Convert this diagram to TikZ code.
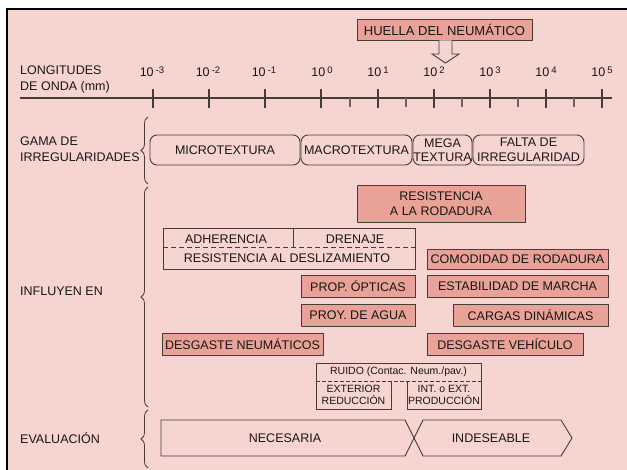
\documentclass[tikz,border=0pt]{standalone}
\usepackage{fontspec}
\setmainfont{Liberation Sans}
\usetikzlibrary{decorations.pathreplacing}
\definecolor{bg}{RGB}{246,212,208}
\definecolor{salmon}{RGB}{232,162,151}
\definecolor{ink}{RGB}{25,22,22}
\definecolor{edge}{RGB}{70,60,58}
\begin{document}
\begin{tikzpicture}[x=1pt,y=-1pt,
  lbl/.style={font=\fontsize{12.5}{15.5}\selectfont, text=ink, inner sep=0pt, align=left},
  txt/.style={font=\fontsize{12.5}{14.5}\selectfont, text=ink, inner sep=0pt, align=center},
  small/.style={font=\fontsize{10.5}{12}\selectfont, text=ink, inner sep=0pt, align=center},
  hot/.style={txt, draw=edge, fill=salmon, line width=0.9pt},
  plain/.style={txt, draw=edge, line width=0.9pt},
  rbox/.style={txt, draw=edge, line width=0.9pt, rounded corners=7pt},
  brace/.style={draw=edge, line width=0.8pt, decorate, decoration={brace, amplitude=7pt}},
  edgeline/.style={draw=edge, line width=0.9pt},
  major/.style={draw=edge, line width=1.4pt},
  minor/.style={draw=edge!75!bg, line width=1.1pt},
  expo/.style={font=\fontsize{12.5}{13}\selectfont, text=ink, inner sep=0pt}]
\useasboundingbox (0,0) rectangle (627,470);
\fill[bg] (7,9) rectangle (627,470);
\draw[black, line width=2.2pt] (7,470) -- (7,9) -- (627,9);

% tyre footprint
\node[hot, minimum width=175, minimum height=21, font=\fontsize{13}{14}\selectfont] (huella) at (444.5,29.5) {HUELLA DEL NEUMÁTICO};
\draw[edgeline, fill=bg] (huella.south -| 439,0) -- (439,54) -- (432,54) -- (445.5,63) -- (459,54) -- (452,54) -- (huella.south -| 452,0);

% wavelength axis
\node[lbl, anchor=west] (long) at (20,79.5) {LONGITUDES\\DE ONDA (mm)};
\coordinate (ax0) at (20,98);
\coordinate (ax1) at (612,98);
\draw[major] (ax0) -- (ax1);
\draw[major] (153,89) -- (153,108) (209,89) -- (209,108) (265,89) -- (265,108)
  (321,89) -- (321,108) (378,89) -- (378,108) (434,89) -- (434,108)
  (490,89) -- (490,108) (546,89) -- (546,108) (602,89) -- (602,108);
\draw[minor] (350,98) -- (350,107) (406,98) -- (406,107) (462,98) -- (462,107)
  (518,98) -- (518,107) (574,98) -- (574,107);
\node[expo] (e1) at (152,72) {10\,\raisebox{0.5ex}{\fontsize{9.5}{9.5}\selectfont -3}};
\node[expo] (e2) at (208,72) {10\,\raisebox{0.5ex}{\fontsize{9.5}{9.5}\selectfont -2}};
\node[expo] (e3) at (264,72) {10\,\raisebox{0.5ex}{\fontsize{9.5}{9.5}\selectfont -1}};
\node[expo] (e4) at (322,72) {10\,\raisebox{0.5ex}{\fontsize{9.5}{9.5}\selectfont 0}};
\node[expo] (e5) at (378,72) {10\,\raisebox{0.5ex}{\fontsize{9.5}{9.5}\selectfont 1}};
\node[expo] (e6) at (434,72) {10\,\raisebox{0.5ex}{\fontsize{9.5}{9.5}\selectfont 2}};
\node[expo] (e7) at (490,72) {10\,\raisebox{0.5ex}{\fontsize{9.5}{9.5}\selectfont 3}};
\node[expo] (e8) at (546,72) {10\,\raisebox{0.5ex}{\fontsize{9.5}{9.5}\selectfont 4}};
\node[expo] (e9) at (602,72) {10\,\raisebox{0.5ex}{\fontsize{9.5}{9.5}\selectfont 5}};

% range of irregularities
\node[lbl, anchor=west] (gama) at (20,149) {GAMA DE\\IRREGULARIDADES};
\draw[brace] (148,184) -- (148,117);
\node[rbox, minimum width=150, minimum height=30] (micro) at (225,150) {MICROTEXTURA};
\node[rbox, minimum width=111, minimum height=30] (macro) at (356.5,150) {MACROTEXTURA};
\node[rbox, minimum width=59, minimum height=30] (mega) at (442.5,150) {MEGA\\TEXTURA};
\node[rbox, minimum width=111, minimum height=30] (falta) at (528.5,150) {FALTA DE\\IRREGULARIDAD};

% influences
\node[lbl, anchor=west] (infl) at (20,291) {INFLUYEN EN};
\draw[brace] (148,407) -- (148,187);
\node[hot, minimum width=168, minimum height=37] (rr) at (441,203.5) {RESISTENCIA\\A LA RODADURA};

\node[plain, minimum width=252, minimum height=41] (slip) at (289,248.5) {};
\draw[edgeline] (293,228) -- (293,247);
\draw[edgeline, dashed, dash pattern=on 5pt off 3pt] (163,247) -- (415,247);
\node[txt] (adh) at (226,239) {ADHERENCIA};
\node[txt] (dren) at (355,239) {DRENAJE};
\node[txt] (rdes) at (287,258) {RESISTENCIA AL DESLIZAMIENTO};

\node[hot, minimum width=181, minimum height=20] (comod) at (517.5,259) {COMODIDAD DE RODADURA};
\node[hot, minimum width=114, minimum height=22] (optic) at (358,286) {PROP. ÓPTICAS};
\node[hot, minimum width=181, minimum height=22] (estab) at (517.5,286) {ESTABILIDAD DE MARCHA};
\node[hot, minimum width=114, minimum height=22] (agua) at (358,315) {PROY. DE AGUA};
\node[hot, minimum width=155, minimum height=22] (cargas) at (530.5,315) {CARGAS DINÁMICAS};
\node[hot, minimum width=161, minimum height=22] (dneu) at (242.5,344) {DESGASTE NEUMÁTICOS};
\node[hot, minimum width=156, minimum height=22] (dveh) at (505,344) {DESGASTE VEHÍCULO};

% noise
\node[small] (ruido) at (398.5,372) {RUIDO (Contac. Neum./pav.)};
\draw[edgeline] (316,381) -- (316,363) -- (481,363) -- (481,381);
\draw[edgeline, dashed, dash pattern=on 4pt off 2pt] (316,381) -- (481,381);
\draw[edgeline] (316,381) -- (316,409) -- (391,409) -- (391,381);
\draw[edgeline] (407,381) -- (407,409) -- (481,409) -- (481,381);
\node[small] (ext) at (353.5,395) {EXTERIOR\\REDUCCIÓN};
\node[small] (int) at (444,395) {INT. o EXT.\\PRODUCCIÓN};

% evaluation
\node[lbl, anchor=west] (eval) at (20,438) {EVALUACIÓN};
\draw[brace] (148,468) -- (148,410);
\coordinate (xm) at (414,438);
\draw[edgeline] (161,420) -- (405,420) -- (xm) -- (405,456) -- (161,456) -- cycle;
\draw[edgeline] (423,420) -- (xm) -- (423,456) -- (561,456) -- (572,438) -- (561,420) -- cycle;
\node[txt] (nec) at (285,438) {NECESARIA};
\node[txt] (ind) at (491,438) {INDESEABLE};
\end{tikzpicture}
\end{document}
